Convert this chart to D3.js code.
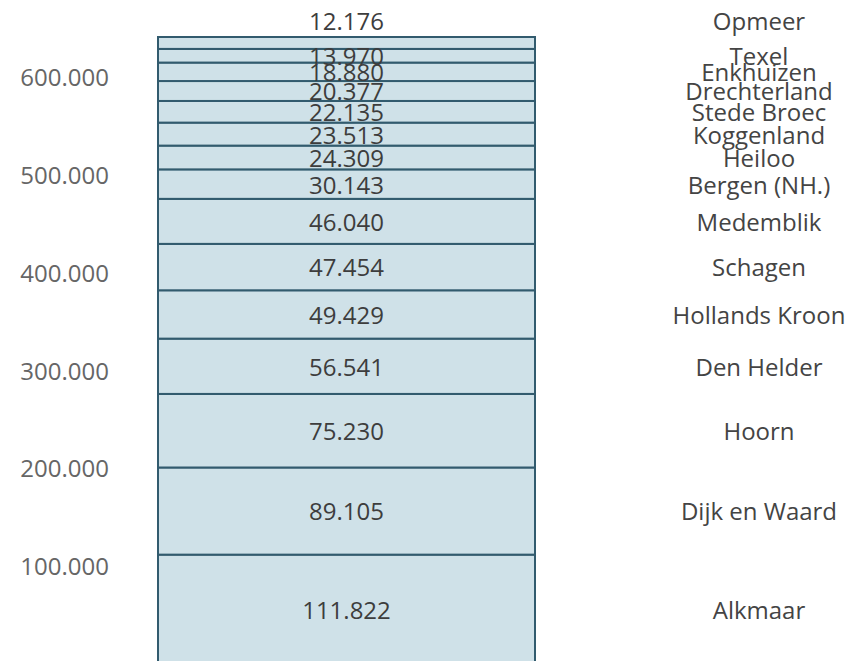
<!DOCTYPE html>
<html>
<head>
<meta charset="utf-8">
<script src="https://cdn.jsdelivr.net/npm/d3@7"></script>
<style>
  body { margin: 0; background: #fff; }
  svg text { font-family: "Open Sans", sans-serif; font-size: 24px; }
</style>
</head>
<body>
<div id="chart"></div>
<script>
// municipalities, bottom to top of the stack
var names = ["Alkmaar", "Dijk en Waard", "Hoorn", "Den Helder", "Hollands Kroon",
  "Schagen", "Medemblik", "Bergen (NH.)", "Heiloo", "Koggenland",
  "Stede Broec", "Drechterland", "Enkhuizen", "Texel", "Opmeer"];
var population = [111822, 89105, 75230, 56541, 49429,
  47454, 46040, 30143, 24309, 23513,
  22135, 20377, 18880, 13970, 12176];
var tickValues = [100000, 200000, 300000, 400000, 500000, 600000];

var width = 849, height = 661;

// dutch number format: 111.822
var fmt = d3.formatLocale({decimal: ",", thousands: ".", grouping: [3]}).format(",.0f");

// stack the values
var rows = [];
var acc = 0;
names.forEach(function(n, i) {
  rows.push({name: n, value: population[i], y0: acc, y1: acc + population[i]});
  acc += population[i];
});
var total = acc;

var yScale = d3.scaleLinear().domain([0, total]).range([664, 37]);
var xScale = d3.scaleBand().domain(["all"]).range([158, 535]).padding(0);

var svg = d3.select("#chart").append("svg")
  .attr("width", width)
  .attr("height", height);

// y axis labels only
var yAxis = d3.axisLeft(yScale)
  .tickValues(tickValues)
  .tickSize(0)
  .tickPadding(0)
  .tickFormat(fmt);

var ga = svg.append("g")
  .attr("transform", "translate(109,0)")
  .call(yAxis);
ga.select(".domain").remove();
ga.selectAll("text")
  .attr("fill", "#666")
  .attr("font-size", 24)
  .attr("font-family", "Open Sans, sans-serif")
  .attr("dy", "0.35em");

// segments
svg.append("g").selectAll("rect")
  .data(rows)
  .enter()
  .append("rect")
  .attr("x", xScale("all"))
  .attr("width", xScale.bandwidth())
  .attr("y", function(d) { return yScale(d.y1); })
  .attr("height", function(d) { return yScale(d.y0) - yScale(d.y1); })
  .attr("fill", "#cfe1e8")
  .attr("stroke", "#325b6e")
  .attr("stroke-width", 2);

function labelY(d, i) {
  // top slice is too thin, its label goes above the bar
  if (i === rows.length - 1) return yScale(d.y1) - 15;
  return yScale((d.y0 + d.y1) / 2) + 1;
}

svg.append("g").selectAll("text")
  .data(rows)
  .enter()
  .append("text")
  .attr("x", xScale("all") + xScale.bandwidth() / 2)
  .attr("y", labelY)
  .attr("dy", "0.35em")
  .attr("text-anchor", "middle")
  .attr("fill", "#3d3d3d")
  .text(function(d) { return fmt(d.value); });

svg.append("g").selectAll("text")
  .data(rows)
  .enter()
  .append("text")
  .attr("x", 759)
  .attr("y", labelY)
  .attr("dy", "0.35em")
  .attr("text-anchor", "middle")
  .attr("fill", "#444")
  .text(function(d) { return d.name; });
</script>
</body>
</html>
